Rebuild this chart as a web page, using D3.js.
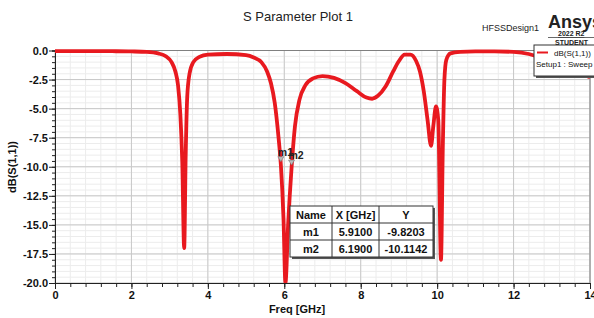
<!DOCTYPE html>
<html>
<head>
<meta charset="utf-8">
<script src="https://cdn.jsdelivr.net/npm/d3@7"></script>
<style>
  body { margin: 0; background: #fff; }
  text { font-family: "Liberation Sans", Arial, sans-serif; }
</style>
</head>
<body>
<svg width="594" height="318"></svg>
<script>
// frequency sweep (GHz) and S11 (dB)
var freq = [0, 0.5, 1.0, 1.5, 2.0, 2.4, 2.7, 2.9, 3.05, 3.15, 3.22, 3.28, 3.33, 3.38, 3.42, 3.46, 3.52, 3.62, 3.78,
  4.0, 4.5, 5.0, 5.2, 5.4, 5.55, 5.65, 5.75, 5.85, 5.91, 5.98, 6.03, 6.1, 6.19, 6.28, 6.4, 6.55, 6.75,
  7.0, 7.3, 7.6, 7.9, 8.15, 8.3, 8.45, 8.65, 8.85, 9.0, 9.15, 9.3, 9.45, 9.55, 9.65, 9.75, 9.84, 9.9,
  9.97, 10.03, 10.1, 10.15, 10.19, 10.24, 10.35, 10.6, 11.0, 11.5, 12.0, 12.4, 12.7, 13.0, 13.3, 13.6, 14.0];
var s11 = [-0.05, -0.05, -0.05, -0.06, -0.08, -0.12, -0.25, -0.5, -1.0, -1.8, -3.0, -5.5, -9.5, -17.0, -9.0, -4.0, -2.0, -1.0, -0.55,
  -0.35, -0.3, -0.4, -0.6, -1.0, -1.8, -2.8, -4.5, -7.5, -9.82, -14.5, -20, -15, -10.11, -6.5, -4.2, -3.0, -2.4,
  -2.2, -2.35, -2.8, -3.5, -4.05, -4.15, -3.9, -3.1, -1.8, -0.9, -0.35, -0.35, -0.9, -1.8, -3.5, -6.0, -8.2, -6.5,
  -4.8, -6.0, -18.0, -8, -2.5, -0.8, -0.25, -0.12, -0.08, -0.08, -0.12, -0.3, -0.6, -1.0, -1.4, -1.8, -2.3];

var xTicks = [0, 2, 4, 6, 8, 10, 12, 14];
var xTickLabels = ['0', '2', '4', '6', '8', '10', '12', '14'];
var yTicks = [0, -2.5, -5, -7.5, -10, -12.5, -15, -17.5, -20];
var yTickLabels = ['0.0', '-2.5', '-5.0', '-7.5', '-10.0', '-12.5', '-15.0', '-17.5', '-20.0'];

var markerNames = ['m1', 'm2'];
var markerX = [5.91, 6.19];
var markerY = [-9.8203, -10.1142];
var markerXText = ['5.9100', '6.1900'];
var markerYText = ['-9.8203', '-10.1142'];

var svg = d3.select('svg');
var pL = 55, pR = 590, pT = 50.5, pB = 283;

var x = d3.scaleLinear().domain([0, 14]).range([pL, pR]);
var y = d3.scaleLinear().domain([0, -20]).range([pT, pB]);

var xMinor = d3.range(0, 36).map(function (d) { return d * 0.4; });
var yMinor = d3.range(0, 41).map(function (d) { return -d / 2; });

// grid
var g = svg.append('g');
g.selectAll('.vminor').data(xMinor).enter().append('line')
  .attr('x1', function (d) { return x(d); }).attr('x2', function (d) { return x(d); })
  .attr('y1', pT).attr('y2', pB)
  .attr('stroke', '#ececec').attr('stroke-width', 1);
g.selectAll('.hminor').data(yMinor).enter().append('line')
  .attr('x1', pL).attr('x2', pR)
  .attr('y1', function (d) { return y(d); }).attr('y2', function (d) { return y(d); })
  .attr('stroke', '#ececec').attr('stroke-width', 1);
g.selectAll('.vmajor').data(xTicks).enter().append('line')
  .attr('x1', function (d) { return x(d); }).attr('x2', function (d) { return x(d); })
  .attr('y1', pT).attr('y2', pB)
  .attr('stroke', '#c8c8c8').attr('stroke-width', 1);
g.selectAll('.hmajor').data(yTicks).enter().append('line')
  .attr('x1', pL).attr('x2', pR)
  .attr('y1', function (d) { return y(d); }).attr('y2', function (d) { return y(d); })
  .attr('stroke', '#c8c8c8').attr('stroke-width', 1);

// frame
svg.append('line').attr('x1', pL).attr('x2', pR).attr('y1', pT).attr('y2', pT).attr('stroke', '#808080');
svg.append('line').attr('x1', pR).attr('x2', pR).attr('y1', pT).attr('y2', pB).attr('stroke', '#808080');

// axes
svg.append('g').attr('transform', 'translate(0,' + pB + ')')
  .call(d3.axisBottom(x).tickValues(xMinor).tickSize(4).tickFormat(function () { return ''; }))
  .call(function (a) { a.select('.domain').attr('stroke', '#222'); a.selectAll('line').attr('stroke', '#222'); });
svg.append('g').attr('transform', 'translate(0,' + pB + ')')
  .call(d3.axisBottom(x).tickValues(xTicks).tickSize(6).tickFormat(function (d, i) { return xTickLabels[i]; }))
  .call(function (a) {
    a.select('.domain').remove();
    a.selectAll('line').attr('stroke', '#222');
    a.selectAll('text').attr('font-size', 11).attr('font-weight', 'bold').attr('fill', '#111').attr('y', 8);
  });

svg.append('g').attr('transform', 'translate(' + pL + ',0)')
  .call(d3.axisLeft(y).tickValues(yMinor).tickSize(3).tickFormat(function () { return ''; }))
  .call(function (a) { a.select('.domain').attr('stroke', '#222'); a.selectAll('line').attr('stroke', '#222'); });
svg.append('g').attr('transform', 'translate(' + pL + ',0)')
  .call(d3.axisLeft(y).tickValues(yTicks).tickSize(6).tickFormat(function (d, i) { return yTickLabels[i]; }))
  .call(function (a) {
    a.select('.domain').remove();
    a.selectAll('line').attr('stroke', '#222');
    a.selectAll('text').attr('font-size', 11).attr('font-weight', 'bold').attr('fill', '#111').attr('x', -7);
  });

// curve
svg.append('clipPath').attr('id', 'clip').append('rect')
  .attr('x', pL).attr('y', pT - 2).attr('width', pR - pL).attr('height', pB - pT + 2);
var line = d3.line()
  .x(function (d, i) { return x(freq[i]); })
  .y(function (d) { return y(d); })
  .curve(d3.curveMonotoneX);
svg.append('path').datum(s11)
  .attr('clip-path', 'url(#clip)')
  .attr('d', line)
  .attr('fill', 'none')
  .attr('stroke', '#e8191f')
  .attr('stroke-width', 3.8)
  .attr('stroke-linejoin', 'round');

// markers
markerNames.forEach(function (n, i) {
  var mx = x(markerX[i]), my = y(markerY[i]);
  svg.append('path')
    .attr('d', 'M' + (mx - 3) + ',' + (my - 8) + 'L' + (mx + 3) + ',' + (my - 8) + 'L' + mx + ',' + (my - 3) + 'Z')
    .attr('fill', '#bbb').attr('stroke', '#777').attr('stroke-width', 0.6);
  svg.append('text').attr('x', mx - 3).attr('y', my - 9)
    .attr('font-size', 10.5).attr('font-weight', 'bold').attr('fill', '#222').text(n);
});

// marker table
var tx = 290, ty = 206, colW = [42, 47, 54], rowH = 17;
var tw = d3.sum(colW), th = rowH * 3;
svg.append('rect').attr('x', tx + 2).attr('y', ty + 2).attr('width', tw).attr('height', th).attr('fill', '#555');
svg.append('rect').attr('x', tx).attr('y', ty).attr('width', tw).attr('height', th)
  .attr('fill', '#fff').attr('stroke', '#333').attr('stroke-width', 1);
var rows = [['Name', 'X [GHz]', 'Y']].concat(markerNames.map(function (n, i) {
  return [n, markerXText[i], markerYText[i]];
}));
var cx = tx;
colW.forEach(function (w, c) {
  if (c > 0) svg.append('line').attr('x1', cx).attr('x2', cx).attr('y1', ty).attr('y2', ty + th).attr('stroke', '#333');
  rows.forEach(function (r, k) {
    svg.append('text').attr('x', cx + w / 2).attr('y', ty + rowH * k + 12.5)
      .attr('text-anchor', 'middle').attr('font-size', 11).attr('font-weight', 'bold').attr('fill', '#111').text(r[c]);
  });
  cx += w;
});
[1, 2].forEach(function (k) {
  svg.append('line').attr('x1', tx).attr('x2', tx + tw).attr('y1', ty + rowH * k).attr('y2', ty + rowH * k).attr('stroke', '#333');
});

// legend
svg.append('rect').attr('x', 536).attr('y', 47).attr('width', 62).attr('height', 31).attr('fill', '#555');
svg.append('rect').attr('x', 534).attr('y', 45).attr('width', 62).attr('height', 31)
  .attr('fill', '#fff').attr('stroke', '#333');
svg.append('line').attr('x1', 537).attr('x2', 548).attr('y1', 52.5).attr('y2', 52.5)
  .attr('stroke', '#e8191f').attr('stroke-width', 2);
svg.append('text').attr('x', 554).attr('y', 56).attr('font-size', 8).attr('fill', '#111').text('dB(S(1,1))');
svg.append('text').attr('x', 536).attr('y', 67).attr('font-size', 8).attr('fill', '#111').text('Setup1 : Sweep');

// titles
svg.append('text').attr('x', 298).attr('y', 21).attr('text-anchor', 'middle')
  .attr('font-size', 13).attr('fill', '#222').text('S Parameter Plot 1');
svg.append('text').attr('x', 297).attr('y', 313).attr('text-anchor', 'middle')
  .attr('font-size', 11).attr('font-weight', 'bold').attr('fill', '#111').text('Freq [GHz]');
svg.append('text').attr('transform', 'translate(16,167) rotate(-90)').attr('text-anchor', 'middle')
  .attr('font-size', 11).attr('font-weight', 'bold').attr('fill', '#111').text('dB(S(1,1))');

// product stamp
svg.append('text').attr('x', 482).attr('y', 31).attr('font-size', 9).attr('fill', '#222').text('HFSSDesign1');
svg.append('text').attr('x', 548).attr('y', 28).attr('font-size', 18).attr('font-weight', 'bold').attr('fill', '#222').text('Ansys');
svg.append('text').attr('x', 558).attr('y', 36).attr('font-size', 7).attr('font-weight', 'bold').attr('fill', '#222')
  .attr('text-decoration', 'underline').text('2022 R2');
svg.append('line').attr('x1', 548).attr('x2', 594).attr('y1', 37.5).attr('y2', 37.5).attr('stroke', '#444').attr('stroke-width', 0.8);
svg.append('text').attr('x', 555).attr('y', 45).attr('font-size', 7).attr('font-weight', 'bold').attr('fill', '#222').text('STUDENT');
</script>
</body>
</html>
